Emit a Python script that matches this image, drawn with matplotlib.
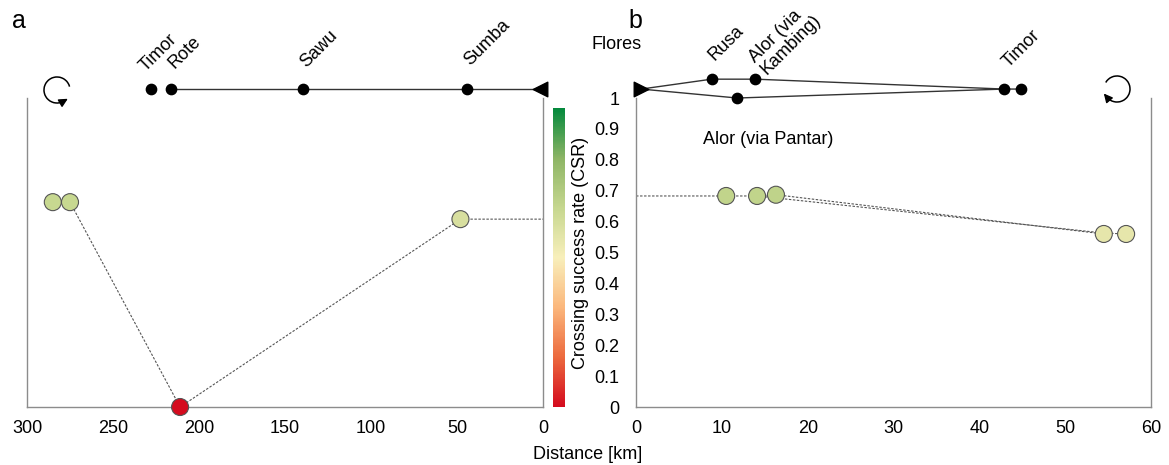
import numpy as np
import matplotlib
matplotlib.use('Agg')
import matplotlib.pyplot as plt
from matplotlib.colors import LinearSegmentedColormap
from matplotlib.patches import Arc
import matplotlib.cm as cm

plt.rcParams['font.family'] = ['Liberation Sans', 'DejaVu Sans']
FS = 13

#----- data: panel a (distance from Flores, km) -----
a_dist = [285, 275, 211, 48]
a_csr = [0.663, 0.663, 0.0, 0.608]
a_route_x = [275, 211, 48, 0]        # dashed connection
a_route_y = [0.663, 0.0, 0.608, 0.608]

a_islands = ['Timor', 'Rote', 'Sawu', 'Sumba']
a_island_km = [228, 216, 139.5, 44]

#----- data: panel b -----
b_dist = [10.5, 14.1, 16.3, 54.5, 57.1]
b_csr = [0.683, 0.683, 0.687, 0.56, 0.56]
b_route1_x = [0, 10.5, 14.1, 16.3, 54.5]
b_route1_y = [0.683, 0.683, 0.683, 0.687, 0.56]
b_route2_x = [14.1, 54.5, 57.1]
b_route2_y = [0.683, 0.563, 0.56]

b_upper_km = [8.8, 13.9]
b_lower_km = [11.8]
b_timor_km = [42.9, 44.9]

cmap = LinearSegmentedColormap.from_list(
    'csr', ['#d40b1e', '#ec6a3e', '#fbb77c', '#f8efbb', '#c6d78f', '#8db565', '#04893c'])

fig = plt.figure(figsize=(11.69, 4.65), dpi=100)
axA = fig.add_axes([0.0231, 0.1247, 0.4414, 0.6645])
axB = fig.add_axes([0.5441, 0.1247, 0.4405, 0.6645])
cax = fig.add_axes([0.4731, 0.1247, 0.0103, 0.6430])

spine_col = '#8c8c8c'
dash = (0, (2.2, 1.4))

for ax in (axA, axB):
    ax.set_ylim(0, 1)
    ax.spines['top'].set_visible(False)
    for s in ('left', 'right', 'bottom'):
        ax.spines[s].set_color(spine_col)
        ax.spines[s].set_linewidth(1.0)
    ax.tick_params(length=0, labelsize=FS, pad=9)

#----- panel a -----
axA.set_xlim(300, 0)
axA.set_xticks([300, 250, 200, 150, 100, 50, 0])
axA.set_yticks([])
axA.plot(a_route_x, a_route_y, linestyle=dash, color='#555555', lw=0.8, zorder=2)
axA.scatter(a_dist, a_csr, s=150, c=a_csr, cmap=cmap, vmin=0, vmax=1,
            edgecolors='#555555', linewidths=0.8, zorder=3, clip_on=False)

yl = 1.03
axA.plot([a_island_km[1], 0], [yl, yl], color='#333333', lw=1, clip_on=False)
axA.scatter(a_island_km, [yl] * 4, s=55, color='black', zorder=4, clip_on=False)
axA.scatter([1.5], [yl], marker='<', s=110, color='black', zorder=4, clip_on=False)
offs = [(-2, 10), (4, 12), (4, 13), (4, 14)]
for name, km, off in zip(a_islands, a_island_km, offs):
    axA.annotate(name, (km, yl), xytext=off, textcoords='offset points',
                 rotation=45, ha='left', va='bottom', rotation_mode='anchor',
                 fontsize=FS, annotation_clip=False)

#----- panel b -----
axB.set_xlim(0, 60)
axB.set_xticks([0, 10, 20, 30, 40, 50, 60])
axB.set_yticks(np.round(np.arange(0, 1.01, 0.1), 1))
axB.set_yticklabels(['0', '0.1', '0.2', '0.3', '0.4', '0.5', '0.6', '0.7', '0.8', '0.9', '1'])
axB.tick_params(axis='y', pad=12)
axB.set_ylabel('Crossing success rate (CSR)', fontsize=FS)
axB.yaxis.set_label_coords(-0.092, 0.5)
axB.plot(b_route1_x, b_route1_y, linestyle=dash, color='#555555', lw=0.8, zorder=2)
axB.plot(b_route2_x, b_route2_y, linestyle=dash, color='#555555', lw=0.8, zorder=2)
axB.scatter(b_dist, b_csr, s=150, c=b_csr, cmap=cmap, vmin=0, vmax=1,
            edgecolors='#555555', linewidths=0.8, zorder=3)

y_mid, y_up, y_lo = 1.029, 1.061, 1.0
axB.plot([0.6, b_upper_km[0], b_upper_km[1], b_timor_km[0], b_timor_km[1]],
         [y_mid, y_up, y_up, y_mid, y_mid], color='#333333', lw=1, clip_on=False)
axB.plot([0.6, b_lower_km[0], b_timor_km[0]], [y_mid, y_lo, y_mid],
         color='#333333', lw=1, clip_on=False)
axB.scatter(b_upper_km + b_lower_km + b_timor_km, [y_up, y_up, y_lo, y_mid, y_mid],
            s=55, color='black', zorder=4, clip_on=False)
axB.scatter([0.6], [y_mid], marker='>', s=110, color='black', zorder=4, clip_on=False)
axB.annotate('Rusa', (b_upper_km[0], y_up), xytext=(4, 11), textcoords='offset points',
             rotation=45, ha='left', va='bottom', rotation_mode='anchor',
             fontsize=FS, annotation_clip=False)
axB.annotate('Alor (via\nKambing)', (b_upper_km[1], y_up), xytext=(10, 1),
             textcoords='offset points', rotation=45, ha='left', va='bottom',
             rotation_mode='anchor', fontsize=FS, annotation_clip=False,
             linespacing=0.95)
axB.annotate('Timor', (b_timor_km[0], y_mid), xytext=(5, 13), textcoords='offset points',
             rotation=45, ha='left', va='bottom', rotation_mode='anchor',
             fontsize=FS, annotation_clip=False)
axB.text(7.8, 0.865, 'Alor (via Pantar)', fontsize=FS, va='center', ha='left')

#----- colorbar -----
sm = cm.ScalarMappable(cmap=cmap, norm=plt.Normalize(0, 1))
cb = fig.colorbar(sm, cax=cax)
cb.set_ticks([])
cb.outline.set_visible(False)

#----- text -----
fig.text(0.010, 0.955, 'a', fontsize=18, va='center', ha='left')
fig.text(0.538, 0.955, 'b', fontsize=18, va='center', ha='left')
fig.text(0.527, 0.905, 'Flores', fontsize=FS, va='center', ha='center')
fig.text(0.503, 0.022, 'Distance [km]', fontsize=FS, va='center', ha='center')

#----- rotation icons (pixel overlay, y measured from bottom) -----
ov = fig.add_axes([0, 0, 1, 1], facecolor='none')
ov.set_xlim(0, 1169)
ov.set_ylim(0, 465)
ov.axis('off')


def rot_icon(cx, cy, r, t1, t2, ccw):
    cy = 465 - cy
    ov.add_patch(Arc((cx, cy), 2 * r, 2 * r, theta1=t1, theta2=t2, color='black', lw=1.1))
    if ccw:
        t = np.radians(t2)
        tx, ty = -np.sin(t), np.cos(t)
    else:
        t = np.radians(t1)
        tx, ty = np.sin(t), -np.cos(t)
    ex, ey = cx + r * np.cos(t), cy + r * np.sin(t)
    ov.annotate('', xy=(ex + tx * 5, ey + ty * 5), xytext=(ex - tx * 1, ey - ty * 1),
                arrowprops=dict(arrowstyle='-|>', color='black', lw=1.0,
                                mutation_scale=13, shrinkA=0, shrinkB=0))


rot_icon(57, 90, 13, 15, 300, True)
rot_icon(1117, 89, 13, 220, 510, False)

fig.savefig('out.png', dpi=100)
